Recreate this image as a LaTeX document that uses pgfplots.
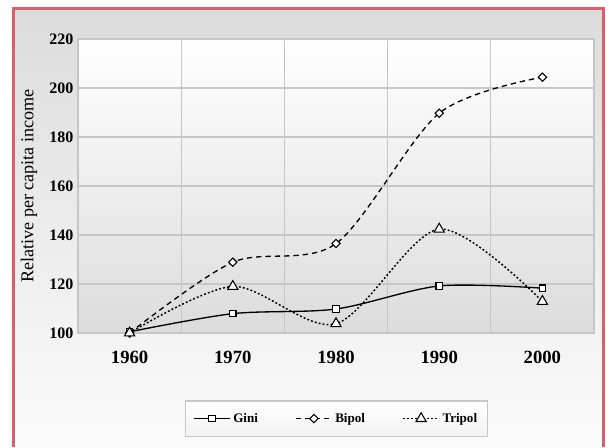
\documentclass[border=0pt]{standalone}
\usepackage{fontspec}
\setmainfont{Liberation Serif}
\usepackage{pgfplots}
\pgfplotsset{compat=1.18}
\definecolor{framered}{HTML}{D9606A}
\definecolor{bgtop}{HTML}{DCDCDC}
\definecolor{bgbot}{HTML}{FBFBFB}
\definecolor{gridc}{HTML}{C6C6C6}
\begin{document}
\begin{tikzpicture}
\begin{scope}[x=0.75pt,y=-0.75pt]
\useasboundingbox (0,0) rectangle (609,447);
\shade[top color=bgtop, bottom color=bgbot] (13.5,8.5) rectangle (603.5,447);
\fill[framered] (12.3,7.3) rectangle (14.7,447);
\fill[framered] (12.3,7.3) rectangle (604.7,9.7);
\fill[framered] (602.3,7.3) rectangle (604.7,447);
\end{scope}
\begin{axis}[
  at={(78*0.75pt,-333*0.75pt)}, anchor=south west,
  scale only axis, width=387pt, height=220.5pt,
  xmin=1955, xmax=2005, ymin=100, ymax=220,
  xtick={1960,1970,1980,1990,2000},
  xticklabels={1960,1970,1980,1990,2000},
  minor xtick={1965,1975,1985,1995},
  ytick={100,120,...,220},
  ymajorgrids, xminorgrids,
  major tick length=0pt, minor tick length=0pt,
  tick style={draw=none},
  grid style={gridc, line width=0.9pt},
  minor grid style={gridc, line width=0.9pt},
  axis line style={gridc, line width=1.2pt},
  axis background/.style={shade, top color=white, bottom color=bgtop},
  clip=false,
  /pgf/number format/assume math mode=true,
  yticklabel style={font=\bfseries\fontsize{12}{12}\selectfont},
  xticklabel style={font=\bfseries\fontsize{14}{14}\selectfont, yshift=-10pt},
  ylabel={Relative per capita income},
  ylabel style={at={(axis description cs:-0.095,0.5)}, anchor=center, font=\fontsize{13.6}{13.6}\selectfont},
  legend columns=3,
  legend style={at={(0.501,-0.291)}, anchor=center, draw=gray!45, line width=0.8pt,
    top color=white, bottom color=gray!10,
    font=\bfseries\fontsize{9.8}{10}\selectfont, inner xsep=6pt, inner ysep=7pt,
    /tikz/every even column/.append style={column sep=26pt}},
  legend image code/.code={\draw[mark repeat=2,mark phase=2,#1] plot coordinates {(0pt,0pt) (13.5pt,0pt) (27pt,0pt)};},
]
\addplot[black, line width=1pt, smooth, mark=square*, mark size=2.4pt,
  mark options={fill=white, solid, line width=0.8pt}]
  coordinates {(1960,100.5)(1970,107.9)(1980,109.8)(1990,119.2)(2000,118.3)};
\addlegendentry{Gini}
\addplot[black, line width=1pt, smooth, dash pattern=on 4pt off 3pt, mark=square*, mark size=2.2pt,
  mark options={fill=white, solid, rotate=45, line width=0.8pt}]
  coordinates {(1960,100)(1970,128.9)(1980,136.5)(1990,189.7)(2000,204.4)};
\addlegendentry{Bipol}
\addplot[black, line width=1.1pt, smooth, dash pattern=on 1.4pt off 1.6pt, mark=triangle*, mark size=4.4pt,
  mark options={fill=white, solid, line width=0.8pt}]
  coordinates {(1960,100)(1970,119)(1980,103.8)(1990,142.4)(2000,112.9)};
\addlegendentry{Tripol}
\end{axis}
\end{tikzpicture}
\end{document}
